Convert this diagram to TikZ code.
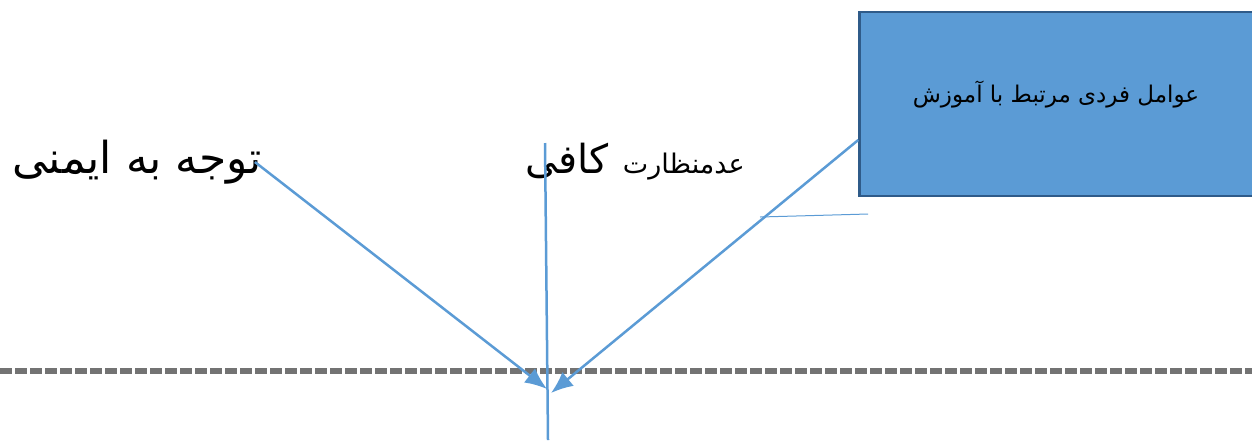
\documentclass[tikz,border=0pt]{standalone}
\usepackage{fontspec}
\newfontfamily\arabicfont[Script=Arabic]{DejaVu Sans}
\TeXXeTstate=1
\usetikzlibrary{arrows.meta, positioning}
\definecolor{linkblue}{HTML}{5B9BD5}
\definecolor{boxedge}{HTML}{2F5B89}

\begin{document}
\begin{tikzpicture}[
    x=1pt, y=-1pt,
    factor/.style={
        font=\arabicfont,
        inner sep=0pt
    },
    box/.style={
        rectangle,
        draw=boxedge,
        fill=linkblue,
        line width=2.5pt,
        minimum width=403pt,
        minimum height=184pt
    },
    arrow/.style={-{Latex[length=22pt, width=18pt]}, linkblue, line width=2.5pt},
    link/.style={linkblue, line width=2.5pt}
]
\useasboundingbox (0,0) rectangle (1252,440);
\clip (0,0) rectangle (1252,440);

% Ground line
\draw[black!55, line width=6pt, dash pattern=on 12pt off 3pt] (0,371) -- (1252,371);

% Factors
\node[factor, font=\arabicfont\fontsize{44}{48}\selectfont] (safety) at (137,162) {\beginR توجه به ایمنی\endR};
\node[factor] (supervision) at (635,162) {\beginR{\fontsize{27}{30}\selectfont عدمنظارت}\hspace{14pt}{\fontsize{40}{44}\selectfont کافی}\endR};
\node[box] (training) at (1061,104) {};
\node[factor, font=\arabicfont\fontsize{23}{26}\selectfont] (traininglabel) at (1056,95) {\beginR عوامل فردی مرتبط با آموزش\endR};

% Meeting point
\coordinate (top) at (545,143);
\coordinate (bottom) at (548,440);
\coordinate (hit1) at (547,389);
\coordinate (hit2) at (551,393);
\coordinate (stub) at (868,214);

% Arrows
\draw[link] (top) -- (bottom);
\draw[arrow] ([xshift=-7pt]safety.east) -- (hit1);
\draw[arrow] ([yshift=-36pt]training.west) -- (hit2);
\draw[linkblue, line width=1pt] (760,217) -- (stub);

\end{tikzpicture}
\end{document}
